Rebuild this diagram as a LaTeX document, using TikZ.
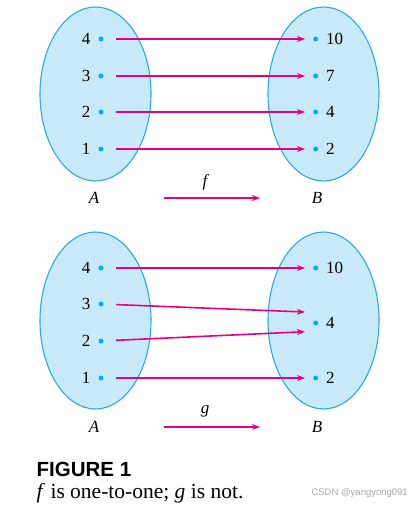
\documentclass[tikz,border=0pt]{standalone}
\usepackage{fontspec}
\setmainfont{Liberation Serif}
\newfontfamily\capfont{Liberation Sans}
\usetikzlibrary{arrows.meta,shapes.geometric}
\definecolor{setfill}{RGB}{200,234,248}
\definecolor{setdraw}{RGB}{41,171,226}
\definecolor{dotc}{RGB}{0,174,239}
\definecolor{arrc}{RGB}{230,0,126}
\begin{document}
\begin{tikzpicture}[x=1pt,y=-1pt,
  setel/.style={ellipse, draw=setdraw, fill=setfill, line width=1.1pt, inner sep=0pt, minimum width=111pt},
  dot/.style={circle, fill=dotc, inner sep=0pt, minimum size=5pt},
  lab/.style={font=\fontsize{17}{17}\selectfont, inner sep=0pt},
  map/.style={draw=arrc, line width=1.6pt, -{Stealth[length=8pt,width=6pt]}},
  mapd/.style={map, shorten <=12.5pt, shorten >=8pt}
]
\useasboundingbox (0,0) rectangle (412,516);
% ---------- top diagram ----------
\node[setel, minimum height=174pt] (A1) at (95.5,94) {};
\node[setel, minimum height=174pt] (B1) at (323.5,94) {};
\foreach \n/\y in {4/39,3/76,2/112,1/149}{
  \node[dot] (fa\n) at (101,\y) {};
  \node[lab, anchor=east] (fla\n) at (90.5,\y) {\n};
}
\foreach \n/\v/\y in {4/10/39,3/7/76,2/4/112,1/2/149}{
  \node[dot] (fb\n) at (315.7,\y) {};
  \node[lab, anchor=west] (flb\n) at (326,\y) {\v};
}
\foreach \n in {4,3,2,1}{ \draw[mapd] (fa\n) -- (fb\n); }
\node[lab] (fA) at (94,198) {\textit{A}};
\node[lab] (fB) at (317,198) {\textit{B}};
\node[lab] (fname) at (206,182) {\textit{f}};
\coordinate (fs) at (164,198);
\coordinate (fe) at (260,198);
\draw[map] (fs) -- (fe);
% ---------- bottom diagram ----------
\node[setel, minimum height=177pt] (A2) at (95.5,320.5) {};
\node[setel, minimum height=177pt] (B2) at (323.5,320.5) {};
\foreach \n/\y in {4/268,3/304,2/341,1/378}{
  \node[dot] (ga\n) at (101,\y) {};
  \node[lab, anchor=east] (gla\n) at (90.5,\y) {\n};
}
\foreach \n/\v/\y in {3/10/268,2/4/323,1/2/378}{
  \node[dot] (gb\n) at (315.7,\y) {};
  \node[lab, anchor=west] (glb\n) at (326,\y) {\v};
}
\coordinate (gin1) at (305,312);
\coordinate (gin2) at (305,331.7);
\draw[mapd] (ga4) -- (gb3);
\draw[map, shorten <=12.5pt] (ga3) -- (gin1);
\draw[map, shorten <=12.5pt] (ga2) -- (gin2);
\draw[mapd] (ga1) -- (gb1);
\node[lab] (gA) at (94,427) {\textit{A}};
\node[lab] (gB) at (317,427) {\textit{B}};
\node[lab] (gname) at (205,411) {\textit{g}};
\coordinate (gs) at (164,427);
\coordinate (ge) at (260,427);
\draw[map] (gs) -- (ge);
% ---------- caption ----------
\node[anchor=west, inner sep=0pt, font=\capfont\bfseries\fontsize{20.5}{20.5}\selectfont] (fig) at (36.5,469.5) {FIGURE 1};
\node[anchor=west, inner sep=0pt, font=\fontsize{21.5}{21.5}\selectfont] (cap) at (36.5,493) {\textit{f} is one-to-one; \textit{g} is not.};
\node[anchor=east, inner sep=0pt, text=black!35, font=\capfont\fontsize{9.5}{9.5}\selectfont] (wm) at (408,493) {CSDN @yangyong091};
\end{tikzpicture}
\end{document}
